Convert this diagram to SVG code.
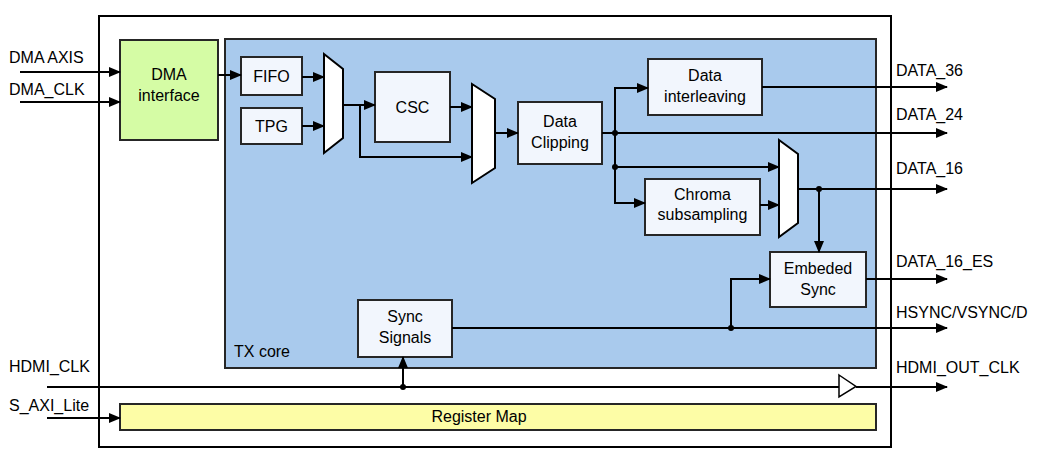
<svg xmlns="http://www.w3.org/2000/svg" width="1037" height="461" viewBox="0 0 1037 461">
<style>
text{font-family:"Liberation Sans",Arial,sans-serif;font-size:16px;fill:#000}
.c{text-anchor:middle}
.blk{fill:#f2f6fd;stroke:#262626;stroke-width:2}
.mux{fill:#fff;stroke:#000;stroke-width:2;stroke-linejoin:miter}
.w{fill:none;stroke:#000;stroke-width:2}
.a{marker-end:url(#ah)}
.dot{fill:#000}
</style>
<defs>
<marker id="ah" markerWidth="12" markerHeight="10" refX="11" refY="5" orient="auto" markerUnits="userSpaceOnUse">
<path d="M0,0 L12,5 L0,10 z" fill="#000"/>
</marker>
</defs>
<rect width="1037" height="461" fill="#fff"/>
<g id="outer"><rect x="99" y="16" width="792" height="431" fill="#fff" stroke="#000" stroke-width="2"/></g>
<g id="txcore"><rect x="225" y="39" width="651" height="329" fill="#a9caed" stroke="#262626" stroke-width="2"/><text x="234" y="357">TX core</text></g>
<g id="dma"><rect x="120" y="40" width="98" height="100" fill="#d5fca5" stroke="#262626" stroke-width="2"/><text class="c" x="169" y="80">DMA</text><text class="c" x="169" y="101">interface</text></g>
<g id="fifo"><rect class="blk" x="241" y="57" width="61" height="38"/><text class="c" x="271.5" y="82">FIFO</text></g>
<g id="tpg"><rect class="blk" x="241" y="108" width="61" height="36"/><text class="c" x="271.5" y="132">TPG</text></g>
<g id="mux1"><polygon class="mux" points="324,54 343,69 343,138 324,153"/></g>
<g id="csc"><rect class="blk" x="375" y="72" width="75" height="70"/><text class="c" x="412.5" y="113">CSC</text></g>
<g id="mux2"><polygon class="mux" points="472,84 495,99 495,168 472,183"/></g>
<g id="clip"><rect class="blk" x="518" y="102" width="84" height="62"/><text class="c" x="560" y="127">Data</text><text class="c" x="560" y="148">Clipping</text></g>
<g id="interleave"><rect class="blk" x="648" y="59" width="114" height="56"/><text class="c" x="705" y="81">Data</text><text class="c" x="705" y="102">interleaving</text></g>
<g id="chroma"><rect class="blk" x="645" y="179" width="115" height="56"/><text class="c" x="702.5" y="200">Chroma</text><text class="c" x="702.5" y="220">subsampling</text></g>
<g id="mux3"><polygon class="mux" points="779,140 798,154 798,223 779,237"/></g>
<g id="embsync"><rect class="blk" x="770" y="252" width="96" height="55"/><text class="c" x="818" y="274">Embeded</text><text class="c" x="818" y="295">Sync</text></g>
<g id="sync"><rect class="blk" x="358" y="300" width="94" height="57"/><text class="c" x="405" y="322">Sync</text><text class="c" x="405" y="343">Signals</text></g>
<g id="regmap"><rect x="120" y="404" width="756" height="26" fill="#fdfda6" stroke="#262626" stroke-width="2"/><text class="c" x="479" y="422">Register Map</text></g>
<g id="buffer"><polygon points="839,375 856,386.5 839,397" fill="#fff" stroke="#000" stroke-width="1.5"/></g>
<g id="labels">
<text x="9" y="63">DMA AXIS</text>
<text x="9" y="95">DMA_CLK</text>
<text x="9" y="372">HDMI_CLK</text>
<text x="9" y="411">S_AXI_Lite</text>
<text x="896" y="76">DATA_36</text>
<text x="896" y="120">DATA_24</text>
<text x="896" y="174">DATA_16</text>
<text x="896" y="267">DATA_16_ES</text>
<text x="896" y="318">HSYNC/VSYNC/D</text>
<text x="896" y="373">HDMI_OUT_CLK</text>
</g>
<g id="connectors">
<path class="w a" d="M20,72 H120"/>
<path class="w a" d="M20,102 H120"/>
<path class="w a" d="M218,75 H241"/>
<path class="w a" d="M302,77 H324"/>
<path class="w a" d="M302,126 H324"/>
<path class="w a" d="M343,105 H375"/>
<path class="w a" d="M360,105 V157 H472"/>
<path class="w a" d="M450,107 H472"/>
<path class="w a" d="M495,133 H518"/>
<path class="w a" d="M602,133 H947"/>
<path class="w a" d="M615,133 V88 H648"/>
<path class="w a" d="M615,133 V203 H645"/>
<path class="w a" d="M615,167 H779"/>
<path class="w a" d="M762,87 H947"/>
<path class="w a" d="M760,205 H779"/>
<path class="w a" d="M798,189 H947"/>
<path class="w a" d="M819,189 V252"/>
<path class="w a" d="M866,279 H947"/>
<path class="w a" d="M452,328 H947"/>
<path class="w a" d="M731,328 V279 H770"/>
<path class="w" d="M47,387 H839"/>
<path class="w a" d="M856,387 H947"/>
<path class="w a" d="M403,387 V357"/>
<path class="w a" d="M47,418 H120"/>
<circle class="dot" cx="615" cy="133" r="3"/>
<circle class="dot" cx="615" cy="167" r="3"/>
<circle class="dot" cx="819" cy="189" r="3"/>
<circle class="dot" cx="731" cy="328" r="3"/>
<circle class="dot" cx="403" cy="387" r="3"/>
</g>
</svg>
